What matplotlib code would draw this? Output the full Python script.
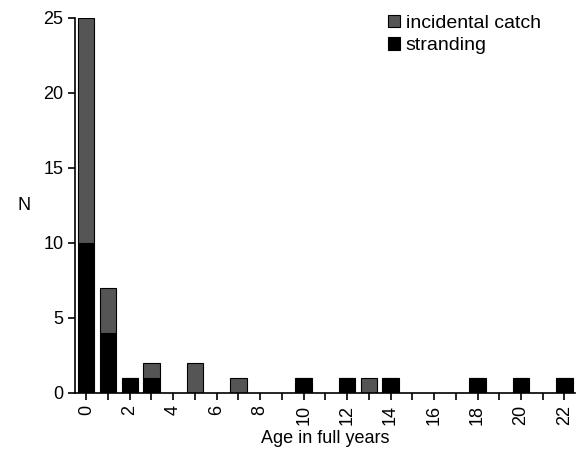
import matplotlib
matplotlib.use("Agg")
import matplotlib.pyplot as plt

plt.rcParams['font.family'] = ['Liberation Sans', 'DejaVu Sans']

ages = [0, 1, 2, 3, 5, 7, 10, 12, 13, 14, 18, 20, 22]
stranding = [10, 4, 1, 1, 0, 0, 1, 1, 0, 1, 1, 1, 1]
catch = [15, 3, 0, 1, 2, 1, 0, 0, 1, 0, 0, 0, 0]

fig = plt.figure(figsize=(5.8, 4.61), dpi=100)
ax = fig.add_axes([0.130, 0.148, 0.862, 0.813])

ax.bar(ages, stranding, width=0.75, color='black', edgecolor='black',
       linewidth=0.8, label='stranding')
ax.bar(ages, catch, width=0.75, bottom=stranding, color='#555555',
       edgecolor='black', linewidth=0.8, label='incidental catch')

ax.set_xlim(-0.5, 22.5)
ax.set_ylim(0, 25)
ax.set_yticks(range(0, 26, 5))
ax.set_xticks(range(0, 23, 2))
ax.set_xticks(range(0, 23), minor=True)
ax.tick_params(axis='x', which='both', direction='out', length=5, width=1.2)
ax.tick_params(axis='y', direction='out', length=5, width=1.2)
ax.tick_params(labelsize=13)
for lab in ax.get_xticklabels():
    lab.set_rotation(90)

for s in ['top', 'right']:
    ax.spines[s].set_visible(False)
for s in ['left', 'bottom']:
    ax.spines[s].set_linewidth(1.2)

ax.set_xlabel('Age in full years', fontsize=13)
ax.set_ylabel('N', fontsize=13, rotation=0, va='center', labelpad=14)

h, l = ax.get_legend_handles_labels()
ax.legend(h[::-1], l[::-1], loc='upper left', frameon=False, fontsize=14,
          handlelength=0.6, handleheight=0.6, handletextpad=0.3,
          borderaxespad=0.0, bbox_to_anchor=(0.61, 1.03), labelspacing=0.3)

fig.savefig('out.png', dpi=100)
